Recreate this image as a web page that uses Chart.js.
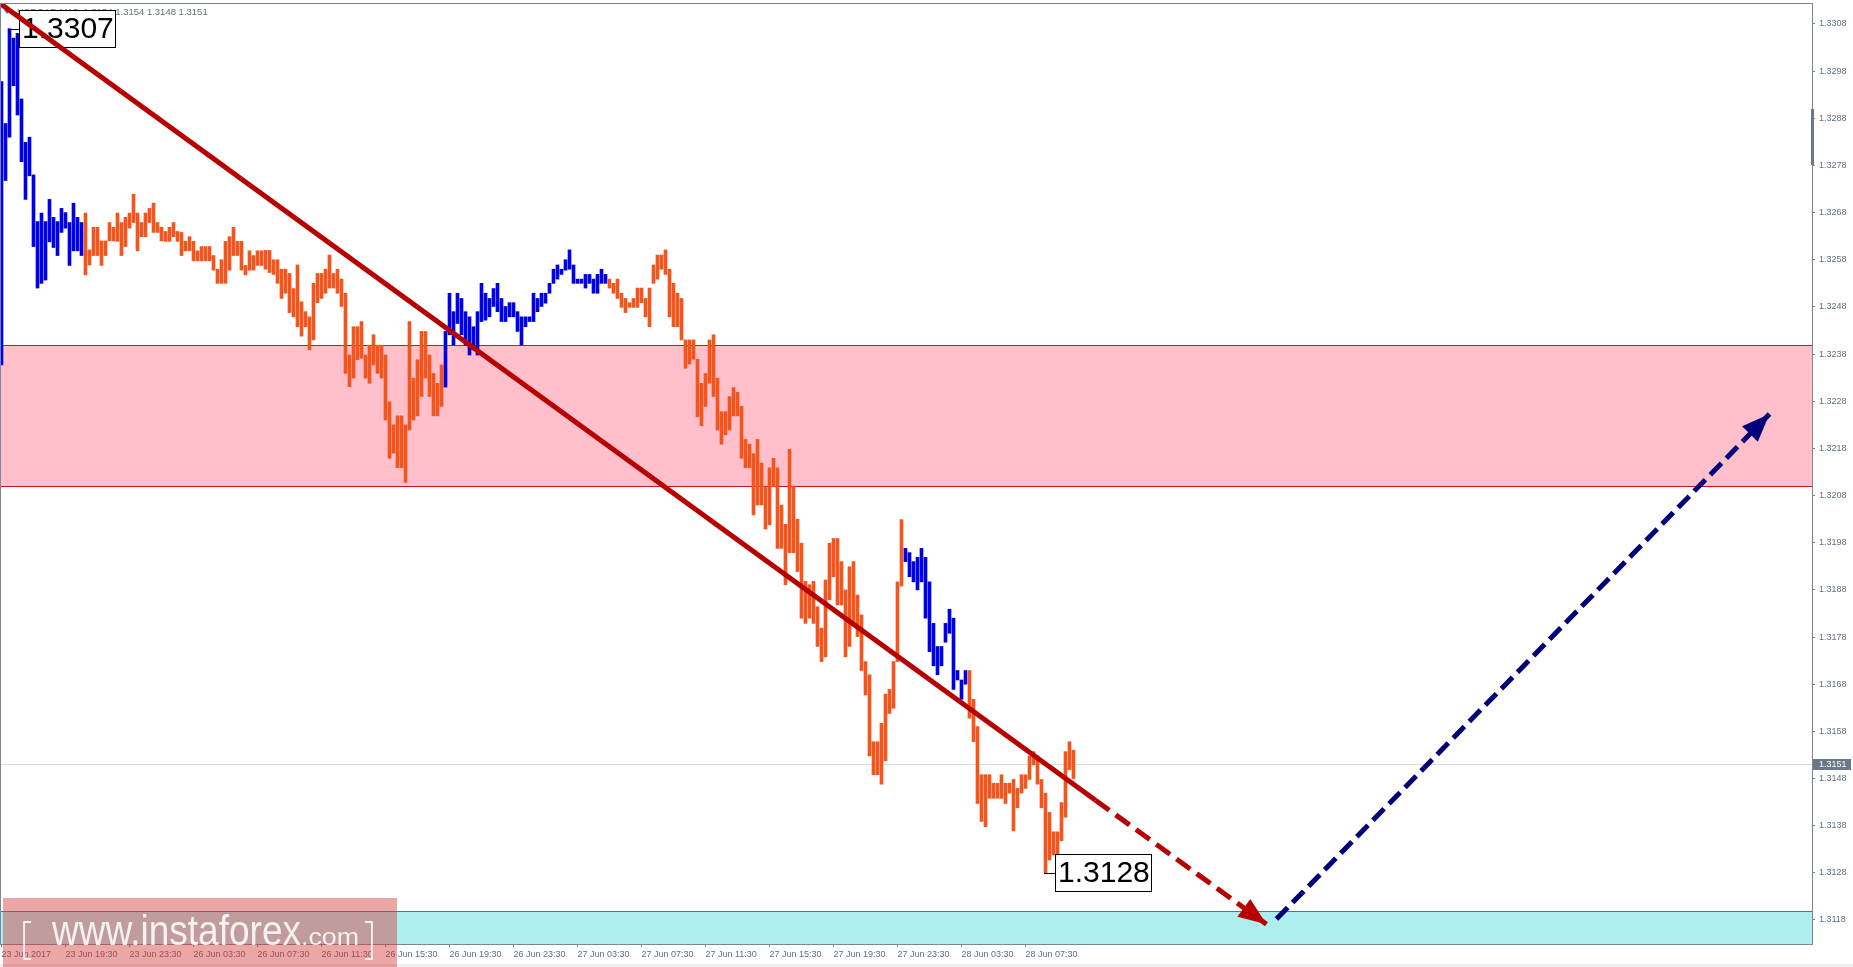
<!DOCTYPE html>
<html>
<head>
<meta charset="utf-8">
<title>USDCAD M15</title>
<script src="https://cdn.jsdelivr.net/npm/chart.js@4.4.1/dist/chart.umd.min.js"></script>
<style>
  html, body { margin: 0; padding: 0; background: #fff; overflow: hidden; }
  #wrap { width: 1853px; height: 967px; }
</style>
</head>
<body>
<div id="wrap"><canvas id="chart" width="1853" height="967"></canvas></div>
<script>
// M15 bars, high / low (bar 0 = 23 Jun 15:30)
const barHigh = [
  1.32958, 1.32869, 1.33070, 1.33050, 1.33060, 1.32921, 1.32829, 1.32840, 1.32760, 1.32661,
  1.32679, 1.32661, 1.32708, 1.32670, 1.32661, 1.32689, 1.32680, 1.32659, 1.32700, 1.32670,
  1.32659, 1.32679, 1.32601, 1.32649, 1.32649, 1.32620, 1.32620, 1.32659, 1.32649, 1.32679,
  1.32659, 1.32670, 1.32679, 1.32719, 1.32679, 1.32659, 1.32679, 1.32689, 1.32700, 1.32659,
  1.32649, 1.32640, 1.32649, 1.32659, 1.32640, 1.32638, 1.32619, 1.32629, 1.32619, 1.32599,
  1.32608, 1.32608, 1.32608, 1.32589, 1.32560, 1.32580, 1.32619, 1.32629, 1.32649, 1.32619,
  1.32619, 1.32568, 1.32599, 1.32589, 1.32599, 1.32599, 1.32600, 1.32600, 1.32580, 1.32580,
  1.32560, 1.32560, 1.32551, 1.32519, 1.32569, 1.32491, 1.32470, 1.32459, 1.32530, 1.32551,
  1.32551, 1.32560, 1.32590, 1.32551, 1.32560, 1.32539, 1.32509, 1.32378, 1.32438, 1.32438,
  1.32449, 1.32378, 1.32399, 1.32421, 1.32399, 1.32399, 1.32378, 1.32279, 1.32230, 1.32249,
  1.32249, 1.32230, 1.32449, 1.32329, 1.32368, 1.32428, 1.32428, 1.32378, 1.32339, 1.32318,
  1.32357, 1.32428, 1.32509, 1.32470, 1.32509, 1.32498, 1.32470, 1.32459, 1.32438, 1.32470,
  1.32530, 1.32509, 1.32498, 1.32519, 1.32530, 1.32498, 1.32481, 1.32489, 1.32489, 1.32470,
  1.32459, 1.32459, 1.32459, 1.32509, 1.32498, 1.32509, 1.32509, 1.32530, 1.32560, 1.32569,
  1.32560, 1.32580, 1.32601, 1.32569, 1.32539, 1.32539, 1.32549, 1.32549, 1.32539, 1.32549,
  1.32560, 1.32549, 1.32539, 1.32530, 1.32539, 1.32509, 1.32498, 1.32489, 1.32498, 1.32520,
  1.32520, 1.32498, 1.32520, 1.32569, 1.32590, 1.32590, 1.32601, 1.32560, 1.32530, 1.32509,
  1.32498, 1.32410, 1.32410, 1.32410, 1.32369, 1.32318, 1.32339, 1.32410, 1.32421, 1.32329,
  1.32258, 1.32258, 1.32290, 1.32309, 1.32299, 1.32269, 1.32199, 1.32189, 1.32169, 1.32199,
  1.32149, 1.32099, 1.32139, 1.32159, 1.32139, 1.32060, 1.32019, 1.32178, 1.32099, 1.32030,
  1.31979, 1.31898, 1.31891, 1.31898, 1.31844, 1.31799, 1.31901, 1.31979, 1.31989, 1.31989,
  1.31940, 1.31880, 1.31929, 1.31940, 1.31869, 1.31827, 1.31728, 1.31700, 1.31558, 1.31558,
  1.31597, 1.31659, 1.31669, 1.31728, 1.31897, 1.32029, 1.31968, 1.31959, 1.31940, 1.31949,
  1.31968, 1.31949, 1.31897, 1.31809, 1.31760, 1.31760, 1.31809, 1.31839, 1.31820, 1.31709,
  1.31689, 1.31709, 1.31709, 1.31648, 1.31590, 1.31488, 1.31488, 1.31488, 1.31470, 1.31470,
  1.31488, 1.31470, 1.31470, 1.31478, 1.31459, 1.31488, 1.31488, 1.31528, 1.31537, 1.31528,
  1.31478, 1.31449, 1.31408, 1.31367, 1.31367, 1.31429, 1.31537, 1.31558, 1.31540
];
const barLow = [
  1.32357, 1.32748, 1.32840, 1.32949, 1.32887, 1.32788, 1.32708, 1.32758, 1.32608, 1.32520,
  1.32530, 1.32537, 1.32618, 1.32606, 1.32589, 1.32638, 1.32647, 1.32568, 1.32599, 1.32599,
  1.32589, 1.32548, 1.32569, 1.32589, 1.32589, 1.32568, 1.32589, 1.32620, 1.32620, 1.32619,
  1.32589, 1.32608, 1.32647, 1.32659, 1.32599, 1.32629, 1.32629, 1.32659, 1.32638, 1.32638,
  1.32620, 1.32619, 1.32619, 1.32629, 1.32619, 1.32589, 1.32599, 1.32599, 1.32578, 1.32578,
  1.32578, 1.32578, 1.32578, 1.32558, 1.32530, 1.32530, 1.32530, 1.32558, 1.32589, 1.32589,
  1.32558, 1.32548, 1.32558, 1.32558, 1.32568, 1.32568, 1.32560, 1.32553, 1.32549, 1.32530,
  1.32498, 1.32509, 1.32468, 1.32459, 1.32438, 1.32418, 1.32438, 1.32389, 1.32410, 1.32489,
  1.32498, 1.32509, 1.32520, 1.32520, 1.32509, 1.32481, 1.32339, 1.32311, 1.32329, 1.32368,
  1.32371, 1.32329, 1.32318, 1.32357, 1.32339, 1.32329, 1.32240, 1.32159, 1.32170, 1.32139,
  1.32139, 1.32108, 1.32219, 1.32240, 1.32249, 1.32290, 1.32329, 1.32290, 1.32249, 1.32249,
  1.32269, 1.32310, 1.32421, 1.32399, 1.32445, 1.32421, 1.32399, 1.32378, 1.32389, 1.32378,
  1.32449, 1.32452, 1.32459, 1.32481, 1.32470, 1.32449, 1.32449, 1.32459, 1.32459, 1.32428,
  1.32399, 1.32438, 1.32449, 1.32449, 1.32470, 1.32481, 1.32488, 1.32509, 1.32530, 1.32539,
  1.32549, 1.32558, 1.32560, 1.32530, 1.32530, 1.32530, 1.32520, 1.32530, 1.32509, 1.32509,
  1.32530, 1.32530, 1.32520, 1.32509, 1.32498, 1.32479, 1.32468, 1.32479, 1.32479, 1.32479,
  1.32489, 1.32459, 1.32438, 1.32530, 1.32539, 1.32560, 1.32549, 1.32459, 1.32438, 1.32438,
  1.32410, 1.32350, 1.32359, 1.32369, 1.32247, 1.32228, 1.32269, 1.32318, 1.32290, 1.32219,
  1.32189, 1.32209, 1.32219, 1.32249, 1.32249, 1.32159, 1.32139, 1.32139, 1.32039, 1.32060,
  1.32060, 1.32009, 1.32018, 1.32099, 1.31968, 1.31968, 1.31891, 1.31959, 1.31959, 1.31919,
  1.31820, 1.31809, 1.31820, 1.31809, 1.31760, 1.31728, 1.31738, 1.31859, 1.31908, 1.31848,
  1.31848, 1.31738, 1.31760, 1.31809, 1.31781, 1.31709, 1.31657, 1.31528, 1.31488, 1.31488,
  1.31468, 1.31518, 1.31618, 1.31629, 1.31728, 1.31888, 1.31940, 1.31908, 1.31897, 1.31880,
  1.31897, 1.31820, 1.31749, 1.31719, 1.31700, 1.31719, 1.31769, 1.31788, 1.31669, 1.31689,
  1.31648, 1.31680, 1.31608, 1.31558, 1.31427, 1.31389, 1.31378, 1.31438, 1.31438, 1.31438,
  1.31438, 1.31427, 1.31449, 1.31369, 1.31418, 1.31449, 1.31459, 1.31478, 1.31509, 1.31468,
  1.31418, 1.31280, 1.31307, 1.31318, 1.31299, 1.31348, 1.31398, 1.31499, 1.31480
];
// bar index ranges painted blue (the rest is orange)
const blueWaves = [[0, 20], [111, 151], [226, 241]];

const priceTicks = [1.3118, 1.3128, 1.3138, 1.3148, 1.3158, 1.3168, 1.3178, 1.3188, 1.3198, 1.3208,
  1.3218, 1.3228, 1.3238, 1.3248, 1.3258, 1.3268, 1.3278, 1.3288, 1.3298, 1.3308];
// one label every 16 bars (4 hours)
const timeLabels = ['23 Jun 2017', '23 Jun 19:30', '23 Jun 23:30', '26 Jun 03:30', '26 Jun 07:30',
  '26 Jun 11:30', '26 Jun 15:30', '26 Jun 19:30', '26 Jun 23:30', '27 Jun 03:30', '27 Jun 07:30',
  '27 Jun 11:30', '27 Jun 15:30', '27 Jun 19:30', '27 Jun 23:30', '28 Jun 03:30', '28 Jun 07:30'];

// drawn wave lines: [bar index, price]
const trendDown = [[-0.25, 1.33123], [273.5, 1.31434], [316.25, 1.31171]];
const trendUp = [[318.75, 1.31182], [442, 1.32253]];
const resistZone = [1.3210, 1.3240];
const targetZone = [1.3113, 1.3120];
const lastPrice = 1.3151;
const extremes = [[2, 1.3307], [261, 1.3128]];
const header = 'USDCAD,M15  1.3154 1.3154 1.3148 1.3151';

const yMin = 1.311291, yMax = 1.331245;

const bars = barHigh.map((h, i) => ({ x: i, y: [barLow[i], h] }));
const barColors = barHigh.map((h, i) =>
  blueWaves.some(([a, b]) => i >= a && i <= b) ? '#0000e8' : '#f2561d');

Chart.defaults.font.family = '"Liberation Sans", Arial, sans-serif';

function fitText(ctx, text, x, y, font, width) {
  ctx.save();
  ctx.font = font;
  const w = ctx.measureText(text).width;
  ctx.translate(x, y);
  ctx.scale(width / w, 1);
  ctx.fillText(text, 0, 0);
  ctx.restore();
}

function drawArrowHead(ctx, x0, y0, x1, y1, color, len, half) {
  const a = Math.atan2(y1 - y0, x1 - x0);
  ctx.save();
  ctx.fillStyle = color;
  ctx.translate(x1, y1);
  ctx.rotate(a);
  ctx.beginPath();
  ctx.moveTo(0, 0);
  ctx.lineTo(-len, -half);
  ctx.lineTo(-len, half);
  ctx.closePath();
  ctx.fill();
  ctx.restore();
}

const mtPlugin = {
  id: 'mt',
  beforeDatasetsDraw(chart) {
    const { ctx, chartArea: ca, scales: { y } } = chart;
    ctx.save();
    ctx.beginPath();
    ctx.rect(ca.left, ca.top, ca.right - ca.left, ca.bottom - ca.top);
    ctx.clip();
    // resistance zone
    let t = Math.round(y.getPixelForValue(resistZone[1]));
    let b = Math.round(y.getPixelForValue(resistZone[0]));
    ctx.fillStyle = '#ffc0cb';
    ctx.fillRect(ca.left, t, ca.right - ca.left, b - t);
    ctx.fillStyle = '#d0141b';
    ctx.fillRect(ca.left, t, ca.right - ca.left, 1);
    ctx.fillRect(ca.left, b, ca.right - ca.left, 1);
    // target zone
    t = Math.round(y.getPixelForValue(targetZone[1]));
    b = Math.round(y.getPixelForValue(targetZone[0]));
    ctx.fillStyle = '#afeeee';
    ctx.fillRect(ca.left, t, ca.right - ca.left, b - t);
    ctx.fillStyle = '#4a72b0';
    ctx.fillRect(ca.left, t, ca.right - ca.left, 1);
    // current price line
    const p = Math.round(y.getPixelForValue(lastPrice));
    ctx.fillStyle = '#d9dde2';
    ctx.fillRect(ca.left, p, ca.right - ca.left, 1);
    // header
    ctx.fillStyle = '#67717c';
    ctx.beginPath();
    ctx.moveTo(4, 10); ctx.lineTo(10, 10); ctx.lineTo(7, 14); ctx.closePath();
    ctx.fill();
    ctx.font = '9.5px "Liberation Sans"';
    ctx.textBaseline = 'middle';
    ctx.fillText(header, 17, 12);
    ctx.restore();
  },
  afterDatasetDraw(chart, args) {
    if (args.index !== 0) return;
    const { ctx, scales: { x, y } } = chart;
    ctx.save();
    ctx.font = '30px "Liberation Sans"';
    ctx.textBaseline = 'middle';
    extremes.forEach(([i, v]) => {
      const bx = Math.round(x.getPixelForValue(i));
      const by = Math.round(y.getPixelForValue(v));
      const txt = v.toFixed(4);
      const w = Math.ceil(ctx.measureText(txt).width) + 5;
      const left = bx + 9;
      ctx.fillStyle = '#000';
      ctx.fillRect(bx - 2, by, left - bx + 2, 1);
      ctx.fillStyle = '#fff';
      ctx.fillRect(left, by - 19, w, 38);
      ctx.strokeStyle = '#000';
      ctx.lineWidth = 1;
      ctx.strokeRect(left + 0.5, by - 18.5, w - 1, 37);
      ctx.fillStyle = '#000';
      ctx.fillText(txt, left + 3, by + 1);
    });
    ctx.restore();
  },
  afterDatasetsDraw(chart) {
    const { ctx, scales: { x, y } } = chart;
    const pts = arr => arr.map(([i, v]) => [x.getPixelForValue(i), y.getPixelForValue(v)]);
    const d = pts(trendDown), u = pts(trendUp);
    drawArrowHead(ctx, d[1][0], d[1][1], d[2][0], d[2][1], '#b80000', 28, 11);
    drawArrowHead(ctx, u[0][0], u[0][1], u[1][0], u[1][1], '#00007a', 28, 11);
  },
  afterDraw(chart) {
    const { ctx, chartArea: ca, scales: { y } } = chart;
    ctx.save();
    // frame
    ctx.strokeStyle = '#7b8794';
    ctx.lineWidth = 1;
    ctx.strokeRect(ca.left + 0.5, ca.top + 0.5, ca.right - ca.left, ca.bottom - ca.top);
    ctx.fillStyle = '#6a7889';
    ctx.fillRect(ca.right - 1, 109, 3, 56);
    // last price tag
    const p = Math.round(y.getPixelForValue(lastPrice));
    ctx.fillStyle = '#6a7889';
    ctx.fillRect(ca.right + 1, p - 5, 38, 11);
    ctx.fillStyle = '#fff';
    ctx.font = '9px "Liberation Sans"';
    ctx.textBaseline = 'middle';
    ctx.fillText(lastPrice.toFixed(4), ca.right + 7, p + 1);
    // bottom strip
    ctx.fillStyle = '#eeeeee';
    ctx.fillRect(0, 964, 1853, 3);
    // watermark
    ctx.fillStyle = 'rgba(214,53,53,0.44)';
    ctx.fillRect(3, 898, 394, 69);
    ctx.fillStyle = 'rgba(255,255,255,0.86)';
    ctx.textBaseline = 'alphabetic';
    fitText(ctx, '[', 20, 953, '300 44px "Open Sans"', 12);
    fitText(ctx, 'www.instaforex', 52, 945, '42px "Liberation Sans"', 249);
    fitText(ctx, '.com', 301, 945, '24px "Liberation Sans"', 58);
    fitText(ctx, ']', 364, 953, '300 44px "Open Sans"', 12);
    ctx.restore();
  }
};

new Chart(document.getElementById('chart'), {
  type: 'bar',
  data: {
    datasets: [
      {
        type: 'bar',
        data: bars,
        backgroundColor: barColors,
        barThickness: 3,
        borderWidth: 0,
        order: 3
      },
      {
        type: 'line',
        data: trendDown.map(([i, v]) => ({ x: i, y: v })),
        borderColor: '#b80000',
        borderWidth: 5,
        borderCapStyle: 'butt',
        pointRadius: 0,
        segment: { borderDash: c => c.p0DataIndex >= 1 ? [17, 8] : undefined },
        order: 2
      },
      {
        type: 'line',
        data: trendUp.map(([i, v]) => ({ x: i, y: v })),
        borderColor: '#00007a',
        borderWidth: 5,
        borderCapStyle: 'butt',
        borderDash: [16, 7],
        pointRadius: 0,
        order: 1
      }
    ]
  },
  options: {
    responsive: false,
    animation: false,
    devicePixelRatio: 1,
    layout: { padding: { top: 3, left: 0, right: 0, bottom: 0 } },
    plugins: { legend: { display: false }, tooltip: { enabled: false } },
    scales: {
      x: {
        type: 'linear',
        min: -0.375,
        max: 452.625,
        offset: false,
        border: { display: false },
        grid: { offset: false, drawOnChartArea: false, drawTicks: true, tickLength: 3, tickColor: '#7b8794' },
        afterBuildTicks: s => { s.ticks = timeLabels.map((_, k) => ({ value: k * 16 })); },
        afterFit: s => { s.height = 23; s.paddingLeft = 0; s.paddingRight = 0; },
        ticks: {
          autoSkip: false, maxRotation: 0, minRotation: 0, align: 'start', padding: 2,
          color: '#5f6f80', font: { size: 9 },
          callback: (v, k) => timeLabels[k]
        }
      },
      y: {
        position: 'right',
        min: yMin,
        max: yMax,
        border: { display: false },
        grid: { drawOnChartArea: false, drawTicks: true, tickLength: 3, tickColor: '#7b8794' },
        afterBuildTicks: s => { s.ticks = priceTicks.map(v => ({ value: v })); },
        afterFit: s => { s.width = 41; s.paddingTop = 0; s.paddingBottom = 0; },
        ticks: {
          autoSkip: false, padding: 4, color: '#5f6f80', font: { size: 9 },
          callback: v => v.toFixed(4)
        }
      }
    }
  },
  plugins: [mtPlugin]
});
</script>
</body>
</html>
